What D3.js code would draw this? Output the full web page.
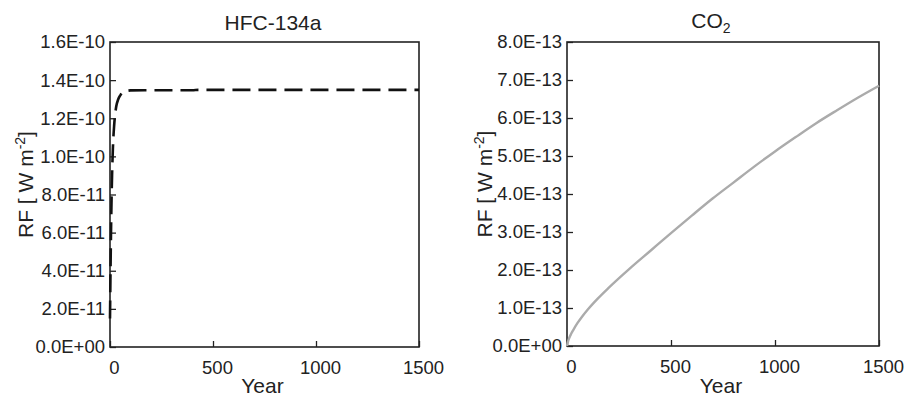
<!DOCTYPE html>
<html lang="en">
<head>
  <meta charset="UTF-8">
  <title>RF: HFC-134a vs CO2</title>
  <script src="https://d3js.org/d3.v7.min.js"></script>
  <style>
    body {
      margin: 0;
      background: #fff;
      font-family: Arial, 'Liberation Sans', sans-serif;
    }
    svg text { fill: #222; }
  </style>
</head>
<body>
  <div id="chart"></div>
  <script>
    // Data (years vs radiative forcing, W m-2)
    const hfcYears = [0, 2, 4, 6, 8, 10, 14, 20, 25, 30, 40, 50, 60, 80, 100, 200, 400, 430, 460, 700, 1000, 1300, 1500];
    const hfcRF = [1.5e-11, 3.5e-11, 5.3e-11, 6.8e-11, 8.0e-11, 9.0e-11, 1.04e-10, 1.16e-10, 1.22e-10, 1.26e-10, 1.30e-10,
                   1.32e-10, 1.335e-10, 1.343e-10, 1.346e-10, 1.347e-10, 1.347e-10, 1.349e-10, 1.349e-10, 1.349e-10, 1.349e-10, 1.349e-10, 1.349e-10];

    const co2Years = [0, 5, 10, 20, 30, 50, 75, 100, 150, 200, 300, 400, 500, 600, 700, 800, 900, 1000, 1100, 1200, 1300, 1400, 1500];
    const co2RF = [0, 1.2e-14, 2.0e-14, 3.2e-14, 4.2e-14, 6.0e-14, 7.9e-14, 9.6e-14, 1.26e-13, 1.53e-13, 2.03e-13, 2.5e-13,
                   2.97e-13, 3.43e-13, 3.88e-13, 4.3e-13, 4.72e-13, 5.12e-13, 5.5e-13, 5.87e-13, 6.21e-13, 6.54e-13, 6.85e-13];

    const yearTicks = [0, 500, 1000, 1500];
    const hfcTicks = [0, 2e-11, 4e-11, 6e-11, 8e-11, 1e-10, 1.2e-10, 1.4e-10, 1.6e-10];
    const co2Ticks = [0, 1e-13, 2e-13, 3e-13, 4e-13, 5e-13, 6e-13, 7e-13, 8e-13];

    const W = 906, H = 398;
    const svg = d3.select("#chart").append("svg")
      .attr("width", W)
      .attr("height", H);

    // 1.6E-10 style labels
    function sci(v) {
      if (v === 0) return "0.0E+00";
      let e = Math.floor(Math.log10(Math.abs(v)) + 1e-9);
      let m = v / Math.pow(10, e);
      const sign = e < 0 ? "-" : "+";
      return m.toFixed(1) + "E" + sign + String(Math.abs(e)).padStart(2, "0");
    }

    function panel(opts) {
      const { left, right, top, bottom, xs, ys, yMax, yTicks, color, dash, width, labelX } = opts;

      const x = d3.scaleLinear().domain([0, 1500]).range([left, right]);
      const y = d3.scaleLinear().domain([0, yMax]).range([bottom, top]);
      const g = svg.append("g");

      // x axis (inward ticks)
      const xa = g.append("g")
        .attr("transform", `translate(0,${bottom})`)
        .call(d3.axisBottom(x).tickValues(yearTicks).tickSizeInner(-6).tickSizeOuter(0).tickPadding(14)
          .tickFormat(d3.format("d")));
      xa.selectAll("text").attr("font-size", 18.5).attr("font-family", "Arial, 'Liberation Sans', sans-serif")
        .attr("dx", 4).attr("fill", "#222");

      const ya = g.append("g")
        .attr("transform", `translate(${left},0)`)
        .call(d3.axisLeft(y).tickValues(yTicks).tickSizeInner(-6).tickSizeOuter(0).tickPadding(5)
          .tickFormat(sci));
      ya.selectAll("text").attr("font-size", 18.5).attr("font-family", "Arial, 'Liberation Sans', sans-serif")
        .attr("fill", "#222");

      g.selectAll(".domain").remove();
      g.selectAll(".tick line").attr("stroke", "#222").attr("stroke-width", 1.3);

      // frame
      g.append("rect")
        .attr("x", left).attr("y", top)
        .attr("width", right - left).attr("height", bottom - top)
        .attr("fill", "none").attr("stroke", "#222").attr("stroke-width", 1.6);

      const line = d3.line()
        .x((d, i) => x(xs[i]))
        .y((d, i) => y(ys[i]))
        .curve(d3.curveMonotoneX);

      g.append("path")
        .datum(xs)
        .attr("d", line)
        .attr("fill", "none")
        .attr("stroke", color)
        .attr("stroke-width", width)
        .attr("stroke-dasharray", dash);

      // x label
      g.append("text")
        .attr("x", (left + right) / 2 - 2)
        .attr("y", 393)
        .attr("text-anchor", "middle")
        .attr("font-size", 21)
        .text("Year");

      // y label
      const yl = g.append("text")
        .attr("transform", `translate(${labelX},${(top + bottom) / 2 - 10}) rotate(-90)`)
        .attr("text-anchor", "middle")
        .attr("font-size", 21);
      yl.append("tspan").text("RF [ W m");
      yl.append("tspan").attr("font-size", 14).attr("dy", -8).text("-2");
      yl.append("tspan").attr("dy", 8).text("]");

      return g;
    }

    panel({
      left: 110, right: 419, top: 42, bottom: 347,
      xs: hfcYears, ys: hfcRF, yMax: 1.6e-10, yTicks: hfcTicks,
      color: "#111", dash: "18,8", width: 2.6, labelX: 33
    });

    panel({
      left: 567, right: 879, top: 42, bottom: 346,
      xs: co2Years, ys: co2RF, yMax: 8e-13, yTicks: co2Ticks,
      color: "#ababab", dash: null, width: 2.4, labelX: 492
    });

    // titles
    svg.append("text")
      .attr("x", 273).attr("y", 30)
      .attr("text-anchor", "middle")
      .attr("font-size", 21)
      .text("HFC-134a");

    const t2 = svg.append("text")
      .attr("x", 711).attr("y", 28)
      .attr("text-anchor", "middle")
      .attr("font-size", 21);
    t2.append("tspan").text("CO");
    t2.append("tspan").attr("font-size", 14).attr("dy", 5).text("2");
  </script>
</body>
</html>
